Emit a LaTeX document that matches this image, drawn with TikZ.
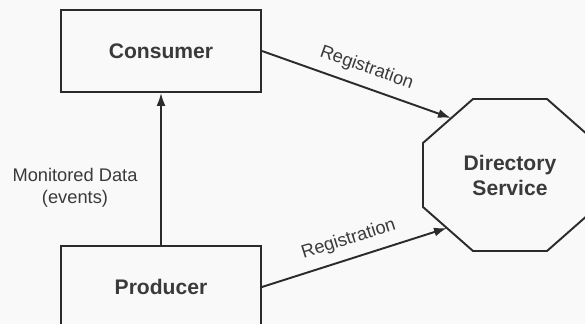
\documentclass[tikz,border=0pt]{standalone}
\usepackage{fontspec}
\setmainfont{Liberation Sans}
\usepackage{tikz}
\usetikzlibrary{arrows.meta}
\usepackage{xcolor}
\definecolor{ink}{HTML}{2B2B2B}
\definecolor{txt}{HTML}{3A3A3A}
\definecolor{paper}{HTML}{F9F9F9}

\tikzset{
  box/.style={draw=ink, line width=1.1pt, minimum width=4cm, minimum height=1.64cm,
    font=\fontsize{12}{14}\selectfont\bfseries, text=txt},
  flow/.style={draw=ink, line width=1.1pt, -{Latex[length=2.6mm,width=1.8mm]}},
  lbl/.style={font=\fontsize{10.4}{12.5}\selectfont, text=txt}
}

\begin{document}
\begin{tikzpicture}[x=0.02cm,y=-0.02cm]
  \useasboundingbox (0,0) rectangle (585,324);
  \clip (0,0) rectangle (585,324);
  \fill[paper] (0,0) rectangle (585,324);

  \node[box] (cons) at (161,51) {Consumer};
  \node[box] (prod) at (161,287) {Producer};

% octagon, its right part runs off the page
\draw[ink, line width=1.1pt] (473,99) -- (547,99) -- (597,143) -- (597,207)
   -- (547,251) -- (473,251) -- (423,207) -- (423,143) -- cycle;
\node[font=\fontsize{12}{14.2}\selectfont\bfseries, text=txt, align=center] (dir) at (510,175) {Directory\\Service};
\coordinate (dirul) at (451,118);
\coordinate (dirll) at (447,228);

\draw[flow] (prod.north) -- (cons.south);
\node[lbl, align=center] (mon) at (75,188) {Monitored Data\\(events)};

\draw[flow] (cons.east) -- (dirul) node[lbl, pos=0.52, sloped, above=2pt] {Registration};
\draw[flow] (prod.east) -- (dirll) node[lbl, pos=0.5, sloped, above=2pt] {Registration};
\end{tikzpicture}
\end{document}
